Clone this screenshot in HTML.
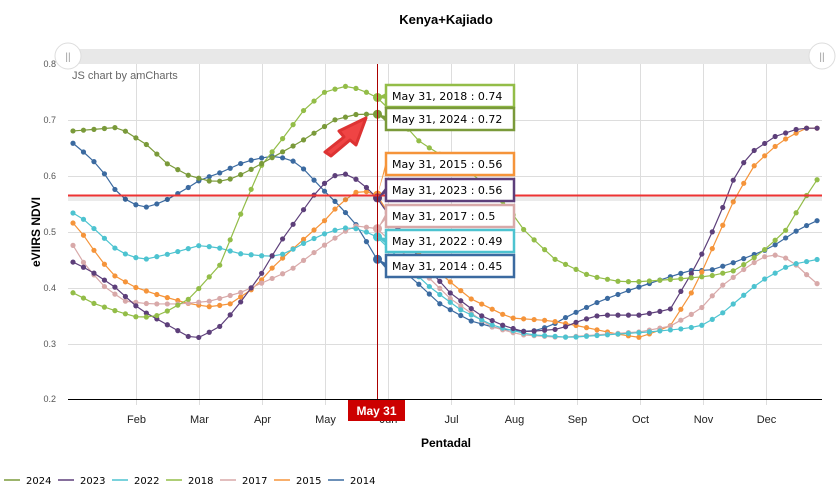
<!DOCTYPE html>
<html><head><meta charset="utf-8"><style>
body{margin:0;background:#fff;width:838px;height:498px;overflow:hidden;font-family:"Liberation Sans",sans-serif}
</style></head><body>
<svg id="s" width="838" height="498" xmlns="http://www.w3.org/2000/svg" font-family="Liberation Sans, sans-serif">
<text x="446" y="24" text-anchor="middle" font-size="13" font-weight="bold" fill="#000">Kenya+Kajiado</text>
<rect x="68" y="49" width="754" height="15" fill="#e8e8e8"/>
<g id="grid" stroke="#ddd" stroke-width="1"></g>
<text x="72" y="79" font-size="11" fill="#666">JS chart by amCharts</text>
<g font-size="9" fill="#555" text-anchor="end">
<text x="56" y="67">0.8</text><text x="56" y="123">0.7</text><text x="56" y="179">0.6</text><text x="56" y="235">0.5</text><text x="56" y="291">0.4</text><text x="56" y="347">0.3</text><text x="56" y="402">0.2</text>
</g>
<g id="months" font-size="11" fill="#222" text-anchor="middle"></g>
<text x="40" y="232" font-size="12" font-weight="bold" text-anchor="middle" transform="rotate(-90 40 232)">eVIIRS NDVI</text>
<text x="446" y="447" font-size="12" font-weight="bold" text-anchor="middle">Pentadal</text>
<line x1="68" y1="399.5" x2="822" y2="399.5" stroke="#000"/>
<g id="series"></g>
<rect x="68" y="196" width="754" height="5" fill="#000" opacity="0.08"/>
<line x1="68" y1="195.5" x2="822" y2="195.5" stroke="#e33" stroke-width="2"/>
<line x1="377.5" y1="64" x2="377.5" y2="399" stroke="#a00" stroke-width="1"/>
<g id="tips" font-family="DejaVu Sans, Verdana, sans-serif" font-size="11" fill="#000"></g>
<path d="M325 152 L344 137 L339 131 L366 118 L356 145 L350 140 L331 156 Z" fill="#ef4444" stroke="#d33" stroke-linejoin="round" stroke-width="3"/>
<rect x="348" y="400" width="57" height="21" fill="#cc0000"/>
<text x="376.5" y="415" font-size="12" fill="#fff" font-weight="bold" text-anchor="middle">May 31</text>
<circle cx="68" cy="56" r="13" fill="#fff" stroke="#ddd"/><text x="68" y="60" font-size="10" fill="#999" text-anchor="middle">||</text>
<circle cx="822" cy="56" r="13" fill="#fff" stroke="#ddd"/><text x="822" y="60" font-size="10" fill="#999" text-anchor="middle">||</text>
<g id="legend" font-size="10" fill="#000" font-family="DejaVu Sans, sans-serif"></g>
</svg>
<script>
const NS="http://www.w3.org/2000/svg";
function el(t,a,p,txt){const e=document.createElementNS(NS,t);for(const k in a)e.setAttribute(k,a[k]);if(txt)e.textContent=txt;document.getElementById(p).appendChild(e);return e;}
const Y=v=>64+(0.8-v)*558;
[120.5,176.5,232.5,288.5,344.5].forEach(y=>el('line',{x1:68,x2:822,y1:y,y2:y},'grid'));
const mon=["Feb","Mar","Apr","May","Jun","Jul","Aug","Sep","Oct","Nov","Dec"];
mon.forEach((m,i)=>{const x=136.5+i*63;el('line',{x1:x,x2:x,y1:64,y2:405},'grid');el('text',{x:x,y:423},'months',m);});
const S=[
["2014","#3b6aa0",[[73,.658],[85,.64],[100,.615],[115,.575],[130,.55],[148,.543],[165,.555],[185,.575],[200,.592],[220,.605],[245,.625],[270,.635],[290,.63],[305,.61],[320,.58],[340,.545],[357,.51],[377,.45],[410,.42],[440,.37],[470,.34],[500,.325],[530,.32],[550,.33],[570,.35],[600,.375],[630,.395],[655,.41],[690,.43],[710,.43],[735,.445],[770,.47],[800,.505],[818,.52]]],
["2015","#f5943a",[[73,.515],[85,.49],[100,.45],[115,.42],[135,.4],[160,.385],[190,.37],[210,.365],[230,.37],[255,.4],[275,.44],[300,.48],[325,.52],[340,.55],[360,.575],[377,.565],[400,.5],[430,.44],[470,.38],[510,.345],[550,.34],[580,.33],[620,.315],[640,.31],[670,.33],[695,.4],[715,.48],[735,.56],[755,.62],[780,.66],[805,.685],[820,.685]]],
["2017","#d8a9a9",[[73,.475],[85,.44],[105,.4],[125,.375],[150,.37],[180,.37],[210,.375],[240,.39],[265,.41],[290,.43],[320,.47],[345,.5],[355,.51],[377,.505],[410,.45],[450,.38],[490,.33],[520,.315],[560,.31],[600,.315],[640,.32],[670,.33],[700,.36],[720,.4],[750,.44],[770,.46],[790,.45],[805,.425],[818,.405]]],
["2022","#4dc3d0",[[73,.533],[85,.52],[100,.495],[115,.47],[130,.455],[145,.45],[170,.46],[200,.475],[220,.47],[240,.46],[270,.455],[285,.46],[305,.48],[330,.5],[350,.508],[365,.5],[377,.49],[400,.45],[430,.4],[460,.36],[495,.33],[530,.315],[570,.31],[610,.315],[650,.32],[680,.325],[700,.33],[720,.35],[740,.38],[760,.41],[790,.44],[818,.45]]],
["2023","#5d3f7a",[[73,.445],[90,.43],[115,.4],[140,.36],[170,.33],[190,.31],[200,.31],[220,.33],[235,.36],[260,.42],[280,.48],[300,.53],[320,.58],[335,.6],[345,.603],[360,.59],[377,.56],[400,.5],[420,.45],[450,.39],[480,.35],[505,.33],[525,.32],[560,.325],[580,.34],[600,.35],[640,.35],[670,.36],[690,.42],[705,.47],[720,.53],[735,.6],[750,.64],[775,.67],[800,.685],[820,.685]]],
["2018","#93bd48",[[73,.39],[95,.37],[120,.355],[140,.345],[160,.35],[190,.38],[220,.44],[245,.55],[262,.62],[280,.66],[305,.72],[325,.75],[345,.76],[360,.755],[377,.74],[400,.7],[420,.66],[475,.6],[505,.55],[525,.5],[555,.45],[590,.42],[620,.41],[640,.41],[680,.415],[710,.42],[735,.43],[760,.46],[785,.5],[805,.56],[818,.595]]],
["2024","#7a9a3a",[[73,.68],[95,.683],[115,.686],[125,.68],[147,.655],[168,.62],[189,.6],[210,.59],[225,.59],[245,.605],[270,.63],[300,.66],[335,.7],[357,.71],[377,.71]]]
];
function interp(k,x){for(let i=0;i<k.length-1;i++){if(x>=k[i][0]&&x<=k[i+1][0]){const t=(x-k[i][0])/(k[i+1][0]-k[i][0]);return k[i][1]+t*(k[i+1][1]-k[i][1]);}}return null;}
S.forEach(([n,c,k])=>{let pts=[];const last=k[k.length-1][0];for(let x=73;x<=last+0.1;x+=10.48){const v=interp(k,Math.min(x,last));if(v!=null)pts.push([x,Y(v)]);}
el('polyline',{points:pts.map(p=>p.join(',')).join(' '),fill:'none',stroke:c,'stroke-width':1.2},'series');
pts.forEach(p=>el('circle',{cx:p[0],cy:p[1],r:2.6,fill:c},'series'));});
const T=[["May 31, 2018 : 0.74","#93bd48",85,.74],["May 31, 2024 : 0.72","#7a9a3a",108,.71],["May 31, 2015 : 0.56","#f5943a",153,.565],["May 31, 2023 : 0.56","#5d3f7a",179,.56],["May 31, 2017 : 0.5","#d8a9a9",205,.505],["May 31, 2022 : 0.49","#4dc3d0",230,.49],["May 31, 2014 : 0.45","#3b6aa0",255,.45]];
T.forEach(([t,c,y,v])=>{el('circle',{cx:377.5,cy:Y(v),r:4.5,fill:c},'series');
el('path',{d:`M377.5 ${Y(v)} L386 ${y+8} L386 ${y+14} Z`,fill:c},'tips');
el('rect',{x:386,y:y,width:128,height:22,fill:'#fff',stroke:c,'stroke-width':2.5},'tips');
el('text',{x:392,y:y+15},'tips',t);});
const L=[["2024","#7a9a3a"],["2023","#5d3f7a"],["2022","#4dc3d0"],["2018","#93bd48"],["2017","#d8a9a9"],["2015","#f5943a"],["2014","#3b6aa0"]];
L.forEach(([n,c],i)=>{const x=4+i*54;el('line',{x1:x,x2:x+16,y1:480,y2:480,stroke:c,'stroke-width':1.5},'legend');el('text',{x:x+22,y:484},'legend',n);});
</script>
</body></html>
